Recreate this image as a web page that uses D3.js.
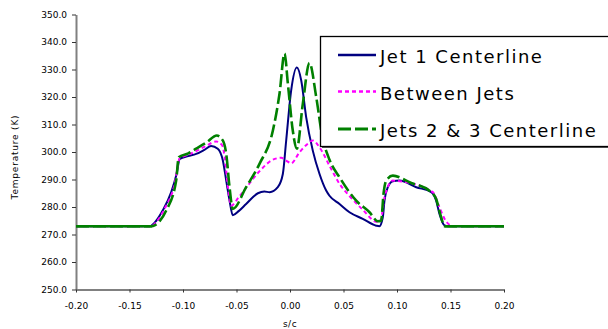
<!DOCTYPE html>
<html><head><meta charset="utf-8">
<script src="https://cdn.jsdelivr.net/npm/d3@7"></script>
<style>body{margin:0;background:#fff}svg{display:block;font-family:"DejaVu Sans",Verdana,sans-serif}</style>
</head><body><svg id="c" width="608" height="329"></svg>
<script>
// ---- data ----
const seriesNames = ["Jet 1 Centerline", "Between Jets", "Jets 2 & 3 Centerline"];
const xTicks = [-0.20, -0.15, -0.10, -0.05, 0.00, 0.05, 0.10, 0.15, 0.20];
const yTicks = [250, 260, 270, 280, 290, 300, 310, 320, 330, 340, 350];
const xTitle = "s/c";
const yTitle = "Temperature  (K)";

const jet1S = [-0.20,-0.131,-0.125,-0.119,-0.111,-0.106,-0.103,-0.095,-0.0877,-0.08,-0.0737,-0.0675,-0.0628,-0.0596,-0.0565,-0.0535,-0.048,-0.041,-0.030,-0.024,-0.019,-0.0114,-0.0067,-0.0036,0.0011,0.0064,0.0105,0.0151,0.0213,0.0276,0.0338,0.0369,0.0463,0.0556,0.068,0.0806,0.0835,0.0867,0.0883,0.0914,0.0961,0.1023,0.118,0.132,0.1366,0.1397,0.1444,0.148,0.20];
const jet1T = [273,273,275,278.7,285.4,292,297.5,298.5,299.3,300.8,302.2,301.2,297,289.6,282.3,277,278.5,281.1,285,285.6,285.4,287.2,292,304,322.4,330.7,326,312.7,300.5,292,286,284.1,281.1,278.1,275.7,273.2,273,276.2,282.3,287.2,289.4,289.6,287.2,285.4,282.3,277.5,273.3,273,273];

const betweenS = [-0.20,-0.13,-0.125,-0.1173,-0.108,-0.103,-0.095,-0.0877,-0.078,-0.069,-0.0635,-0.061,-0.058,-0.055,-0.048,-0.041,-0.0285,-0.016,-0.0082,-0.0036,0.0011,0.0089,0.0166,0.0213,0.0276,0.0369,0.0463,0.0556,0.068,0.0806,0.0835,0.0852,0.0883,0.0961,0.1054,0.1335,0.1397,0.1444,0.149,0.152,0.20];
const betweenT = [273,273,274.5,279.3,288,297.8,299,300.3,302.3,303.8,302.5,298.1,287.2,280.5,283.5,287,293,297.2,297.9,296.9,295.9,299.9,303,304.2,301.7,295,288.4,284,279,274.6,274.5,275.7,283.5,289.6,289.2,285.4,279.9,275.7,273.5,273,273];

const jets23S = [-0.20,-0.129,-0.1266,-0.1215,-0.1157,-0.1064,-0.104,-0.095,-0.0877,-0.078,-0.0684,-0.0628,-0.0596,-0.0565,-0.0535,-0.041,-0.0285,-0.016,-0.0098,-0.0051,-0.002,0.0026,0.0064,0.012,0.0182,0.0245,0.030,0.0369,0.0463,0.0619,0.0743,0.0821,0.0852,0.0874,0.0899,0.0961,0.1117,0.132,0.1366,0.1413,0.1444,0.20];
const jets23T = [273,273,273.3,275,278.7,289.6,298.1,299.5,301.2,303.5,306,304.2,299.3,287.2,279.3,287.2,295.7,307.8,321.2,335.8,324.9,307.8,301.2,317.6,332.4,320,306,297.2,290.8,282.3,278.1,274.8,275,284.8,289.6,291.4,289,285.4,282.9,276.2,273,273];

// ---- chart ----
const svg = d3.select("#c");
const x = d3.scaleLinear().domain([-0.2, 0.2]).range([76, 504]);
const y = d3.scaleLinear().domain([250, 350]).range([289.5, 14.5]);

const series = [
  {name: seriesNames[0], s: jet1S, t: jet1T, color: "#000080", width: 2, dash: null},
  {name: seriesNames[1], s: betweenS, t: betweenT, color: "#FF00FF", width: 2, dash: "4,3"},
  {name: seriesNames[2], s: jets23S, t: jets23T, color: "#008000", width: 2.6, dash: "13,4"}
];

const line = d3.line().x(d => x(d[0])).y(d => y(d[1])).curve(d3.curveMonotoneX);

// axes
const yAxis = d3.axisLeft(y).tickValues(yTicks).tickFormat(d => d.toFixed(1)).tickSizeInner(4).tickSizeOuter(0).tickPadding(5);
const gy = svg.append("g").attr("transform", "translate(76,0)").call(yAxis);
const xAxis = d3.axisBottom(x).tickValues(xTicks).tickFormat(d => d.toFixed(2)).tickSizeInner(3).tickSizeOuter(0).tickPadding(12);
const gx = svg.append("g").attr("transform", "translate(0,289.5)").call(xAxis);
[gx, gy].forEach(g => {
  g.select(".domain").attr("stroke", "#808080").attr("stroke-width", 2);
  g.selectAll(".tick line").attr("stroke", "#333").attr("stroke-width", 1);
  g.selectAll(".tick text").attr("fill", "#000").style("font-size", "9px").style("font-family", '"DejaVu Sans",Verdana,sans-serif');
});
gx.selectAll(".tick text").attr("dy", null).attr("y", 19);

svg.append("text").attr("x", 290).attr("y", 326.5).attr("text-anchor", "middle")
  .style("font-size", "9px").style("letter-spacing", "0.5px").text(xTitle);
svg.append("text").attr("transform", "translate(18,157) rotate(-90)").attr("text-anchor", "middle")
  .style("font-size", "9px").style("letter-spacing", "0.8px").text(yTitle);

// lines
series.forEach(sr => {
  const pts = sr.s.map((v, i) => [v, sr.t[i]]);
  svg.append("path").datum(pts).attr("d", line)
    .attr("fill", "none").attr("stroke", sr.color).attr("stroke-width", sr.width)
    .attr("stroke-dasharray", sr.dash).attr("stroke-linejoin", "round");
});
// the densely sampled flat ends of the last series render as a solid line in the original
const last = series[2];
const allPts = last.s.map((v, i) => [v, last.t[i]]);
[allPts.slice(0, 2), allPts.slice(-2)].forEach(seg => {
  svg.append("path").datum(seg).attr("d", line)
    .attr("fill", "none").attr("stroke", last.color).attr("stroke-width", last.width);
});

// legend
const lg = svg.append("g");
lg.append("rect").attr("x", 322).attr("y", 38).attr("width", 300).attr("height", 110).attr("fill", "#555");
lg.append("rect").attr("x", 320.5).attr("y", 36.5).attr("width", 300).attr("height", 110)
  .attr("fill", "#fff").attr("stroke", "#000").attr("stroke-width", 1.3);
const rowY = [55, 91.5, 129];
series.forEach((sr, i) => {
  lg.append("line").attr("x1", 338).attr("x2", 376).attr("y1", rowY[i]).attr("y2", rowY[i])
    .attr("stroke", sr.color).attr("stroke-width", sr.width + 0.4).attr("stroke-dasharray", sr.dash);
  lg.append("text").attr("x", 380).attr("y", rowY[i] + 8.3)
    .style("font-size", "18px").style("letter-spacing", "1.5px").attr("fill", "#000").text(sr.name);
});
</script></body></html>
